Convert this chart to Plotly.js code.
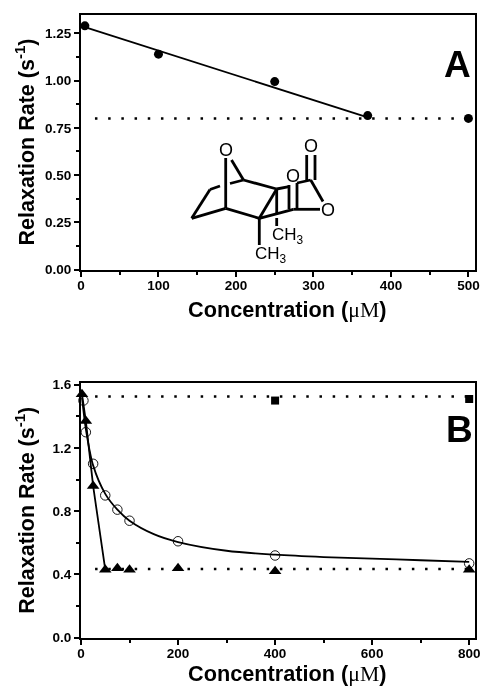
<!DOCTYPE html>
<html><head><meta charset="utf-8">
<script src="https://cdn.plot.ly/plotly-3.0.1.min.js"></script>
<style>html,body{margin:0;padding:0;background:#fff;overflow:hidden}#c{width:480px;height:686px;filter:blur(0.35px)}</style>
</head><body><div id="c"></div>
<script>
// Panel A data
const aX = [5, 100, 250, 370, 500];
const aY = [1.29, 1.14, 0.995, 0.815, 0.80];
const aFitX = [5, 370];
const aFitY = [1.283, 0.805];
const aPlateauX = [18, 505];
const aPlateauY = [0.80, 0.80];
// Panel B data
const bCircleX = [5, 10, 25, 50, 75, 100, 200, 400, 800];
const bCircleY = [1.50, 1.30, 1.10, 0.90, 0.81, 0.74, 0.61, 0.52, 0.47];
const bCurveX = [2, 10, 25, 50, 75, 100, 150, 200, 300, 400, 500, 600, 700, 800];
const bCurveY = [1.52, 1.32, 1.09, 0.91, 0.81, 0.74, 0.655, 0.605, 0.55, 0.525, 0.51, 0.5, 0.49, 0.48];
const bTriX = [2, 10, 25, 50, 75, 100, 200, 400, 800];
const bTriY = [1.54, 1.37, 0.96, 0.43, 0.44, 0.43, 0.44, 0.42, 0.43];
const bTriLineX = [2, 10, 25, 50];
const bTriLineY = [1.54, 1.37, 0.96, 0.43];
const bSqX = [400, 800];
const bSqY = [1.50, 1.51];
const bTopX = [29, 806];
const bTopY = [1.525, 1.525];
const bLowX = [29, 806];
const bLowY = [0.435, 0.435];
// Axis ticks
const aXTicks = [0, 100, 200, 300, 400, 500];
const aYTicks = [0, 0.25, 0.5, 0.75, 1, 1.25];
const bXTicks = [0, 200, 400, 600, 800];
const bYTicks = [0, 0.4, 0.8, 1.2, 1.6];
const xTitle = "<b>Concentration (</b><span style=\"font-family:'Liberation Serif'\">μM</span><b>)</b>";
const yTitle = "<b>Relaxation Rate (s<sup>-1</sup>)</b>";

const W = 480, H = 686;
const px = v => v / W, py = v => 1 - v / H;
const SANS = "Liberation Sans, Arial, sans-serif";

function axisBase() {
  return {
    showgrid: false, zeroline: false, showline: true, mirror: true,
    linecolor: '#000', linewidth: 2, ticks: 'outside', ticklen: 5, tickwidth: 2, tickcolor: '#000',
    ticklabeloverflow: 'allow',
    tickfont: {family: SANS, size: 13.5, color: '#000', weight: 'bold'}
  };
}
const line = (x, y, xa, ya, w, dash, shape) => ({x, y, xaxis: xa, yaxis: ya, mode: 'lines', cliponaxis: false,
  line: {color: '#000', width: w, dash: dash || 'solid', shape: shape || 'linear', smoothing: 0.8}, hoverinfo: 'skip', showlegend: false});
const pts = (x, y, xa, ya, sym, size, fill) => ({x, y, xaxis: xa, yaxis: ya, mode: 'markers', cliponaxis: false,
  marker: {symbol: sym, size, color: fill || '#000', line: {color: '#000', width: fill ? 1 : 0}}, showlegend: false});
const DOT = '2.5px,10.7px';

const traces = [
  line(aFitX, aFitY, 'x', 'y', 1.8),
  line(aPlateauX, aPlateauY, 'x', 'y', 2.5, DOT),
  pts(aX, aY, 'x', 'y', 'circle', 9),
  line(bTopX, bTopY, 'x2', 'y2', 2.5, DOT),
  line(bLowX, bLowY, 'x2', 'y2', 2.5, DOT),
  line(bCurveX, bCurveY, 'x2', 'y2', 1.8, 'solid', 'spline'),
  line(bTriLineX, bTriLineY, 'x2', 'y2', 1.8),
  pts(bCircleX, bCircleY, 'x2', 'y2', 'circle-open', 9.5),
  pts(bTriX, bTriY, 'x2', 'y2', 'triangle-up', 11),
  pts(bSqX, bSqY, 'x2', 'y2', 'square', 8)
];
traces[7].marker.line = {color: '#000', width: 0.9};

// Inset chemical structure drawing (page pixels), bonds as segments
const bonds = [
  [225.7,158,225.7,208],[231.5,160,243.5,180],[243.5,180,276.7,189],
  [210,189.5,220,186],[230,183.5,243.5,180],[210,189.5,191.7,218.3],[191.7,218.3,225.7,208.3],
  [225.7,208.3,259.3,218.3],[259.3,218.3,276.7,189],[259.3,218.3,293.3,209.3],[293.3,209.3,320,209.3],
  [259.3,218.3,259.3,245],[276.7,189,276.7,213],[276.7,218,276.7,226],[276.7,189,289,186.7],
  [289,185,289,209],[297,183,297,209],[297,183,310.7,180],[310.7,180,323,201.5],
  [306.7,155,306.7,180],[315,155,315,180]
];
const shapes = bonds.map(b => ({type: 'line', xref: 'paper', yref: 'paper',
  x0: px(b[0]), y0: py(b[1]), x1: px(b[2]), y1: py(b[3]), line: {color: '#000', width: 2.8}}));

const note = (text, x, y, size, extra) => Object.assign({text, xref: 'paper', yref: 'paper', x: px(x), y: py(y),
  xanchor: 'center', yanchor: 'middle', showarrow: false, align: 'center', font: {family: SANS, size, color: '#000'}}, extra || {});

const annotations = [
  note(xTitle, 287, 309, 21.7),
  note(xTitle, 287, 673, 21.7),
  note('<b>A</b>', 457, 65, 37),
  note('<b>B</b>', 459.5, 430, 37),
  note('O', 225.7, 150, 18),
  note('O', 310.7, 146, 18),
  note('O', 293.3, 176, 18),
  note('O', 328, 209.5, 18),
  note('CH<sub>3</sub>', 288, 236, 17),
  note('CH<sub>3</sub>', 270.5, 255, 17)
];

const layout = {
  width: W, height: H, margin: {l: 0, r: 0, t: 0, b: 0}, paper_bgcolor: '#fff', plot_bgcolor: '#fff', showlegend: false,
  xaxis: Object.assign(axisBase(), {domain: [px(81), px(475)], range: [0, 508.5], anchor: 'y', tickvals: aXTicks, ticktext: aXTicks.map(String), ticklabelstandoff: -3,
    minor: {dtick: 50, ticks: 'outside', ticklen: 3, tickwidth: 2, tickcolor: '#000'}}),
  yaxis: Object.assign(axisBase(), {domain: [py(269.5), py(14.5)], range: [0, 1.35], anchor: 'x', tickvals: aYTicks, ticktext: aYTicks.map(v => v.toFixed(2)),
    minor: {dtick: 0.125, ticks: 'outside', ticklen: 3, tickwidth: 2, tickcolor: '#000'},
    title: {text: yTitle, standoff: 4, font: {family: SANS, size: 21.5, color: '#000'}}}),
  xaxis2: Object.assign(axisBase(), {domain: [px(81), px(475)], range: [0, 812], anchor: 'y2', tickvals: bXTicks, ticktext: bXTicks.map(String), ticklabelstandoff: -3,
    minor: {dtick: 100, ticks: 'outside', ticklen: 3, tickwidth: 2, tickcolor: '#000'}}),
  yaxis2: Object.assign(axisBase(), {domain: [py(637.7), py(382.7)], range: [0, 1.613], anchor: 'x2', tickvals: bYTicks, ticktext: bYTicks.map(v => v.toFixed(1)),
    minor: {dtick: 0.2, ticks: 'outside', ticklen: 3, tickwidth: 2, tickcolor: '#000'},
    title: {text: yTitle, standoff: 12, font: {family: SANS, size: 21.5, color: '#000'}}}),
  shapes, annotations
};
Plotly.newPlot('c', traces, layout, {displayModeBar: false, staticPlot: true});
</script></body></html>
